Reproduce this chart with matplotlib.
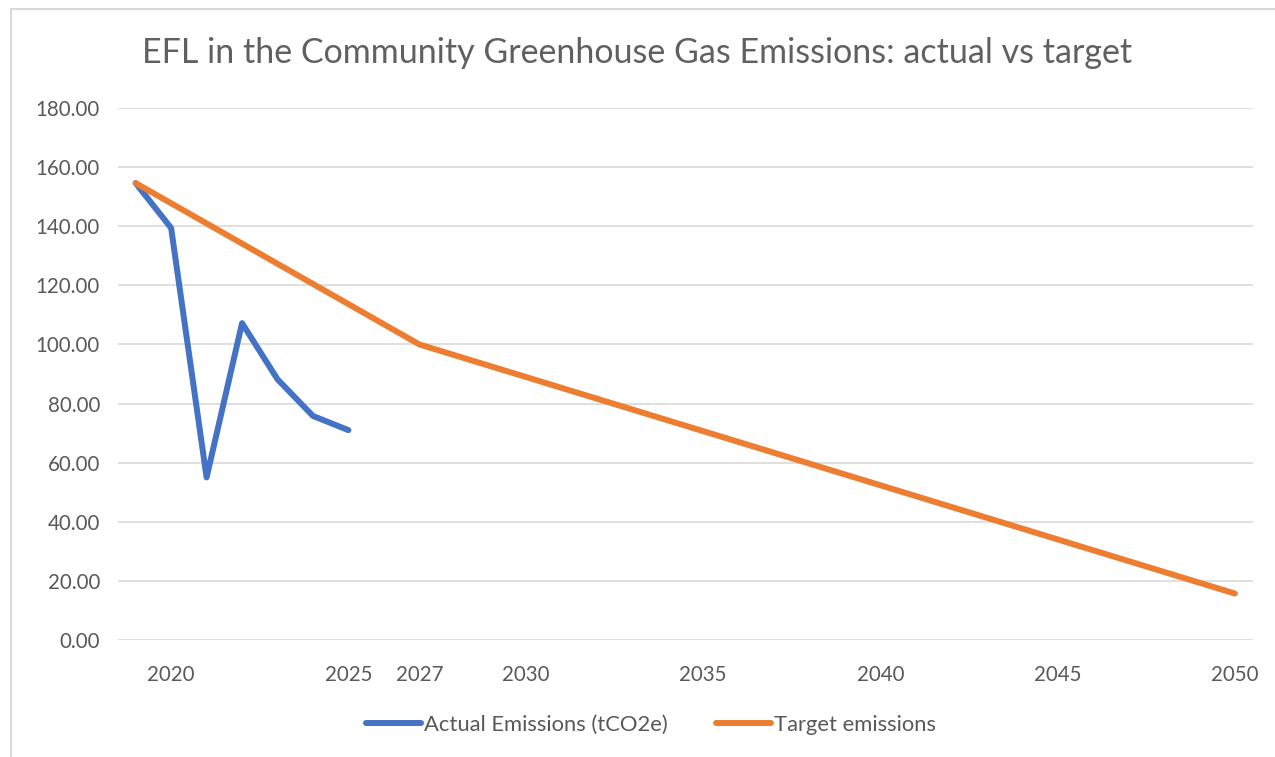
import matplotlib
matplotlib.use("Agg")
import matplotlib.pyplot as plt
from matplotlib.lines import Line2D

plt.rcParams['font.family'] = ['Lato', 'DejaVu Sans']

# actual emissions (tCO2e)
actual_years = [2019, 2020, 2021, 2022, 2023, 2024, 2025]
actual_values = [154.6, 139.4, 55.0, 107.2, 88.2, 75.8, 71.0]

# target path
target_years = [2019, 2027, 2050]
target_values = [154.6, 100.0, 15.7]

x_ticks = [2020, 2025, 2027, 2030, 2035, 2040, 2045, 2050]
y_ticks = [0, 20, 40, 60, 80, 100, 120, 140, 160, 180]

text_grey = '#595959'
grid_grey = '#D9D9D9'

fig = plt.figure(figsize=(12.75, 7.57), dpi=100)
ax = fig.add_axes([0.0925, 0.1546, 0.8900, 0.7027])

ax.plot(actual_years, actual_values, color='#4472C4', lw=4.3,
        solid_capstyle='round', solid_joinstyle='round', label='Actual Emissions (tCO2e)', zorder=3)
ax.plot(target_years, target_values, color='#ED7D31', lw=4.3,
        solid_capstyle='round', solid_joinstyle='round', label='Target emissions', zorder=3)

ax.set_xlim(2018.5, 2050.5)
ax.set_ylim(0, 180)
ax.set_xticks(x_ticks)
ax.set_xticklabels([str(t) for t in x_ticks])
ax.set_yticks(y_ticks)
ax.set_yticklabels(['%.2f' % v for v in y_ticks])
ax.tick_params(axis='both', length=0, labelsize=14.8, colors=text_grey)
ax.tick_params(axis='y', pad=13)
ax.tick_params(axis='x', pad=18)
ax.grid(axis='y', color=grid_grey, lw=1.2)
ax.set_axisbelow(True)
for s in ax.spines.values():
    s.set_visible(False)

fig.text(0.5, 1 - 53 / 757, 'EFL in the Community Greenhouse Gas Emissions: actual vs target',
         ha='center', va='center', fontsize=24.5, color='#606060')

fig.legend(loc='center', bbox_to_anchor=(651 / 1275, 1 - 725 / 757), ncol=2, frameon=False,
           fontsize=15.8, labelcolor=text_grey, handlelength=2.5, handletextpad=0.15,
           columnspacing=2.2)

# outer chart border (top and left visible)
fig.add_artist(Line2D([11 / 1275, 11 / 1275], [0, 1 - 9 / 757], transform=fig.transFigure,
                      color=grid_grey, lw=1.5))
fig.add_artist(Line2D([11 / 1275, 1], [1 - 9 / 757, 1 - 9 / 757], transform=fig.transFigure,
                      color=grid_grey, lw=1.5))

fig.savefig('out.png', dpi=100)
